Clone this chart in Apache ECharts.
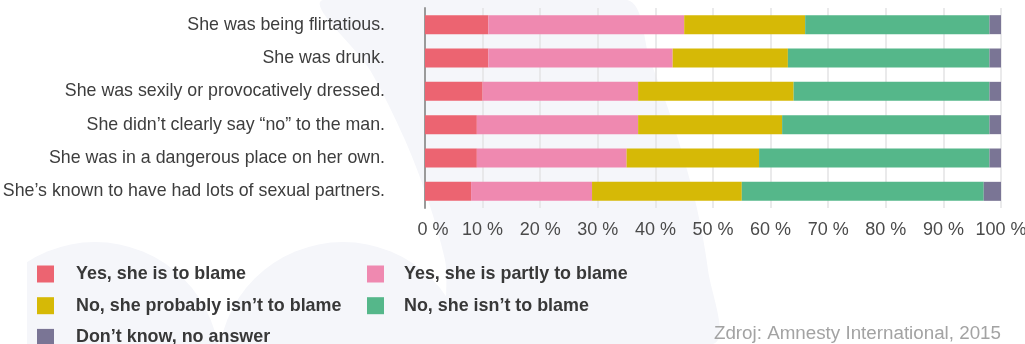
<!DOCTYPE html>
<html>
<head>
<meta charset="utf-8">
<script src="https://cdn.jsdelivr.net/npm/echarts@6/dist/echarts.min.js"></script>
<style>
  html, body { margin: 0; padding: 0; background: #fff; }
  #chart { width: 1025px; height: 344px; }
</style>
</head>
<body>
<div id="chart"></div>
<script>
// situations (top to bottom)
var categories = [
  'She was being flirtatious.',
  'She was drunk.',
  'She was sexily or provocatively dressed.',
  'She didn\u2019t clearly say \u201cno\u201d to the man.',
  'She was in a dangerous place on her own.',
  'She\u2019s known to have had lots of sexual partners.'
];

var seriesNames = [
  'Yes, she is to blame',
  'Yes, she is partly to blame',
  'No, she probably isn\u2019t to blame',
  'No, she isn\u2019t to blame',
  'Don\u2019t know, no answer'
];

// % of answers
var yesBlame    = [11, 11, 10, 9, 9, 8];
var partlyBlame = [34, 32, 27, 28, 26, 21];
var probablyNot = [21, 20, 27, 25, 23, 26];
var notBlame    = [32, 35, 34, 36, 40, 42];
var dontKnow    = [2, 2, 2, 2, 2, 3];

var xMin = 0, xMax = 100, xStep = 10;
var sourceText = 'Zdroj: Amnesty International, 2015';

var colors = ['#ec6471', '#ef89b0', '#d6b906', '#55b78a', '#7a7595'];
var font = '"Liberation Sans", Arial, Helvetica, sans-serif';
var shade = '#f5f6fa';

var myChart = echarts.init(document.getElementById('chart'));

function barSeries(i, values) {
  return {
    name: seriesNames[i],
    type: 'bar',
    stack: 'total',
    barWidth: 19,
    itemStyle: { color: colors[i] },
    emphasis: { disabled: true },
    data: values
  };
}

function legendText(gap) {
  return {
    fontFamily: font,
    fontSize: 17.9,
    fontWeight: 'bold',
    color: '#383838',
    padding: [0, 0, 0, gap]
  };
}

var option = {
  animation: false,
  color: colors,
  textStyle: { fontFamily: font },
  // light watermark shapes behind the chart
  graphic: [
    {
      type: 'polygon', z: -100, silent: true,
      shape: {
        smooth: 0.3,
        points: [[323, 0], [370, 70], [405, 140], [428, 200], [445, 260], [458, 344],
                 [713, 344], [708, 270], [695, 200], [672, 120], [650, 60], [627, 0]]
      },
      style: { fill: shade }
    },
    {
      type: 'circle', z: -100, silent: true,
      shape: { cx: 95, cy: 367, r: 125 },
      style: { fill: shade }
    },
    {
      type: 'circle', z: -100, silent: true,
      shape: { cx: 343, cy: 367, r: 125 },
      style: { fill: shade }
    },
    {
      type: 'rect', z: -99, silent: true,
      shape: { x: 0, y: 235, width: 27, height: 120 },
      style: { fill: '#fff' }
    },
    {
      type: 'text', z: 10, silent: true,
      right: 24, top: 324,
      style: {
        text: sourceText,
        fontFamily: font,
        fontSize: 18.8,
        fill: '#a3a3a3',
        textAlign: 'right'
      }
    }
  ],
  legend: [
    {
      orient: 'vertical',
      left: 37, top: 265,
      padding: 0,
      height: 90,
      itemWidth: 17, itemHeight: 17, itemGap: 13.7,
      icon: 'rect',
      selectedMode: false,
      textStyle: legendText(17),
      data: [seriesNames[0], seriesNames[2], seriesNames[4]]
    },
    {
      orient: 'vertical',
      left: 367, top: 265,
      padding: 0,
      height: 90,
      itemWidth: 17, itemHeight: 17, itemGap: 13.7,
      icon: 'rect',
      selectedMode: false,
      textStyle: legendText(15),
      data: [seriesNames[1], seriesNames[3]]
    }
  ],
  grid: {
    left: 425,
    right: 24,
    top: 8,
    bottom: 136,
    containLabel: false,
    outerBoundsMode: 'none'
  },
  xAxis: {
    type: 'value',
    min: xMin,
    max: xMax,
    interval: xStep,
    axisLine: { show: false },
    axisTick: { show: false },
    splitLine: { lineStyle: { color: '#e3e3e5', width: 1.5 } },
    axisLabel: {
      margin: 13,
      fontFamily: font,
      fontSize: 18,
      color: '#4a4a4a',
      formatter: function (v) {
        return v === xMin ? '{first|' + v + ' %}' : v + ' %';
      },
      rich: {
        first: { fontFamily: font, fontSize: 18, color: '#4a4a4a', padding: [0, 0, 0, 16] }
      }
    }
  },
  yAxis: {
    type: 'category',
    inverse: true,
    data: categories,
    axisLine: { show: true, lineStyle: { color: '#9a9a9a', width: 2 } },
    axisTick: { show: false },
    axisLabel: {
      margin: 40,
      fontFamily: font,
      fontSize: 17.8,
      color: '#3d3d3d'
    }
  },
  series: [
    barSeries(0, yesBlame),
    barSeries(1, partlyBlame),
    barSeries(2, probablyNot),
    barSeries(3, notBlame),
    barSeries(4, dontKnow)
  ]
};

myChart.setOption(option);
</script>
</body>
</html>
